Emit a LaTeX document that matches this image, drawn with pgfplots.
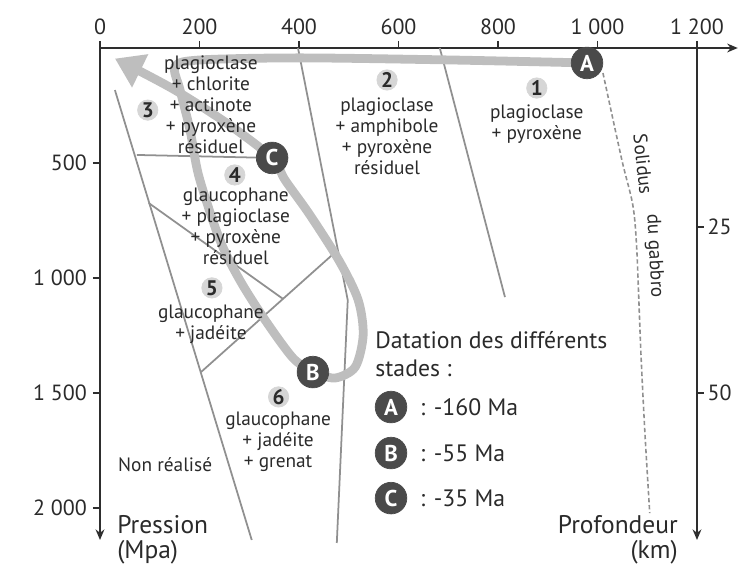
\documentclass[border=0pt]{standalone}
\usepackage{fontspec}
\setmainfont{PT Sans}
\usepackage{pgfplots}
\pgfplotsset{compat=1.18}
\usetikzlibrary{arrows.meta}

\definecolor{axisgray}{HTML}{2E2E2E}
\definecolor{linegray}{HTML}{909090}
\definecolor{bandgray}{HTML}{BEBEBE}
\definecolor{dotgray}{HTML}{4A4A4A}
\definecolor{numgray}{HTML}{D6D6D6}
\definecolor{txtgray}{HTML}{2A2A2A}

\begin{document}
\begin{tikzpicture}[
  reg/.style={align=center, text=txtgray, font=\fontsize{11}{12}\selectfont, inner sep=0pt},
  leg/.style={anchor=west, text=txtgray, font=\fontsize{13.5}{15}\selectfont, inner sep=0pt},
  big/.style={text=txtgray, font=\fontsize{14.5}{14.5}\selectfont, inner sep=0pt},
]
\begin{axis}[
  scale only axis, width=12.756cm, height=9.84cm,
  xmin=0, xmax=1282, ymin=0, ymax=2139, y dir=reverse,
  axis x line=top, axis y line=left,
  axis line style={line width=1.1pt, draw=axisgray, -{Stealth[length=6pt,width=5pt]}},
  xtick={0,200,...,1200}, xticklabels={0,200,400,600,800,1 000,1 200},
  ytick={500,1000,1500,2000}, yticklabels={500,1 000,1 500,2 000},
  tick align=outside, major tick length=4pt,
  tick style={line width=1pt, draw=axisgray},
  tick label style={font=\fontsize{12.5}{14}\selectfont, text=txtgray},
  clip=false,
]
% limites des domaines
\addplot[linegray, line width=1pt] coordinates {(398,0) (498,1096) (476,2152)};
\addplot[linegray, line width=1pt] coordinates {(683,0) (814,1083)};
\addplot[linegray, line width=1pt] coordinates {(30,183) (305,2139)};
\addplot[linegray, line width=1pt] coordinates {(74,465) (346,478)};
\addplot[linegray, line width=1pt] coordinates {(98,674) (368,1091)};
\addplot[linegray, line width=1pt] coordinates {(478,878) (203,1409)};
% solidus du gabbro
\addplot[linegray, line width=0.9pt, dash pattern=on 2.5pt off 1.5pt, smooth]
  coordinates {(1011,109) (1049,487) (1071,683) (1079,878) (1087,1313) (1095,1661) (1105,2022)};

% trajet A -> B
\addplot[bandgray, line width=5pt, smooth, line cap=round]
  coordinates {(979,65) (703,52) (402,43) (201,52) (151,80) (161,183) (181,357)
               (199,560) (241,835) (281,1009) (332,1183) (388,1348) (428,1409)};
% trajet B -> C -> surface
\addplot[bandgray, line width=5pt, smooth, -{Triangle[length=16pt,width=20pt]}]
  coordinates {(428,1409) (472,1435) (513,1387) (529,1248) (519,1096) (482,930)
               (422,726) (372,574) (346,478) (257,330) (157,191) (76,96) (30,46)};

% numeros des domaines
\addplot[only marks, mark=*, mark size=5.8pt, color=numgray,
  nodes near coords, point meta=explicit symbolic, nodes near coords align={center},
  every node near coord/.append style={font=\bfseries\fontsize{12}{12}\selectfont, text=txtgray, inner sep=0pt}]
  coordinates {(878,174)[1] (577,139)[2] (96,270)[3] (271,552)[4] (225,1043)[5] (359,1517)[6]};

% stades A, B, C et legende
\addplot[only marks, mark=*, mark size=9pt, color=dotgray,
  nodes near coords, point meta=explicit symbolic, nodes near coords align={center},
  every node near coord/.append style={font=\bfseries\fontsize{13}{13}\selectfont, text=white, inner sep=0pt}]
  coordinates {(979,65)[A] (428,1409)[B] (346,478)[C]
               (585,1561)[A] (585,1761)[B] (585,1957)[C]};

\node[reg] at (axis cs:878,330) {plagioclase\\+ pyroxène};
\node[reg] at (axis cs:577,385) {plagioclase\\+ amphibole\\+ pyroxène\\résiduel};
\node[reg] at (axis cs:223,246) {plagioclase\\+ chlorite\\+ actinote\\+ pyroxène\\résiduel};
\node[reg] at (axis cs:273,776) {glaucophane\\+ plagioclase\\+ pyroxène\\résiduel};
\node[reg] at (axis cs:223,1200) {glaucophane\\+ jadéite};
\node[reg] at (axis cs:358,1711) {glaucophane\\+ jadéite\\+ grenat};
\node[reg] at (axis cs:131,1813) {Non réalisé};

\node[reg, rotate=-84] at (axis cs:1092,505) {Solidus};
\node[reg, rotate=-87] at (axis cs:1114,905) {du gabbro};

\node[leg] at (axis cs:553,1270) {Datation des différents};
\node[leg] at (axis cs:553,1391) {stades :};
\node[leg] at (axis cs:643,1561) {: -160 Ma};
\node[leg] at (axis cs:643,1761) {: -55 Ma};
\node[leg] at (axis cs:643,1957) {: -35 Ma};

% axe des profondeurs
\draw[line width=1.1pt, axisgray, -{Stealth[length=6pt,width=5pt]}] (axis cs:1200,0) -- (axis cs:1200,2139);
\draw[line width=1pt, axisgray] (axis cs:1200,778) -- ++(4pt,0) node[right, inner sep=1.5pt, font=\fontsize{12.5}{14}\selectfont, text=txtgray] {25};
\draw[line width=1pt, axisgray] (axis cs:1200,1500) -- ++(4pt,0) node[right, inner sep=1.5pt, font=\fontsize{12.5}{14}\selectfont, text=txtgray] {50};

\node[big, align=left, anchor=west] at (axis cs:34,2139) {Pression\\(Mpa)};
\node[big, align=right, anchor=east] at (axis cs:1162,2139) {Profondeur\\(km)};

\coordinate (bbA) at (axis cs:-201,2291);
\coordinate (bbB) at (axis cs:1316.6,-208.7);
\end{axis}
\pgfresetboundingbox
\path[use as bounding box] (bbA) rectangle (bbB);
\end{tikzpicture}
\end{document}
